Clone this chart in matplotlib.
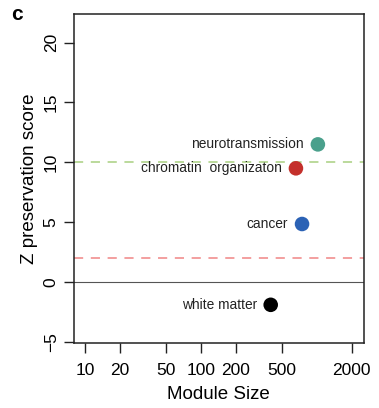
import matplotlib
matplotlib.use("Agg")
import matplotlib.pyplot as plt

plt.rcParams["font.family"] = ["Liberation Sans", "DejaVu Sans"]

# module data
modules = ["neurotransmission", "chromatin  organizaton", "cancer", "white matter"]
module_size = [1020, 660, 745, 400]
z_score = [11.5, 9.5, 4.85, -1.9]
colors = ["#4aa08c", "#c4302b", "#2b62b5", "#000000"]

x_ticks = [10, 20, 50, 100, 200, 500, 2000]
y_ticks = [-5, 0, 5, 10, 15, 20]
thresholds = [10, 2]
threshold_colors = ["#a8d080", "#f08585"]

fig = plt.figure(figsize=(3.79, 4.08), dpi=100)
ax = fig.add_axes([0.195, 0.159, 0.765, 0.807])

ax.set_xscale("log")
ax.set_xlim(8.05, 2540)
ax.set_ylim(-5.1, 22.4)

ax.axhline(0, color="#555555", lw=0.8, zorder=1)
for y, c in zip(thresholds, threshold_colors):
    ax.axhline(y, color=c, lw=1.1, ls=(0, (6, 5)), zorder=1)

ax.scatter(module_size, z_score, s=110, c=colors, zorder=3, edgecolors="none")
for name, x, y in zip(modules, module_size, z_score):
    ax.annotate(name, (x, y), xytext=(-10, 0), textcoords="offset points",
                ha="right", va="center", fontsize=9.9, color="#222222")

ax.set_xticks(x_ticks)
ax.set_xticklabels([str(t) for t in x_ticks])
ax.minorticks_off()
ax.set_yticks(y_ticks)
ax.set_yticklabels([str(t).replace("-", "\u2212") for t in y_ticks],
                   rotation=90, va="center")
ax.tick_params(axis="both", length=7, width=1, labelsize=12.5, pad=4,
               color="#222222")
ax.tick_params(axis="x", pad=7)

for s in ax.spines.values():
    s.set_linewidth(1.1)
    s.set_color("#222222")

ax.set_xlabel("Module Size", fontsize=13.5, labelpad=6)
ax.set_ylabel("Z preservation score", fontsize=13.5, labelpad=4)

fig.text(0.03, 0.965, "c", fontsize=15, fontweight="bold", va="center")

fig.savefig("out.png", dpi=100)
